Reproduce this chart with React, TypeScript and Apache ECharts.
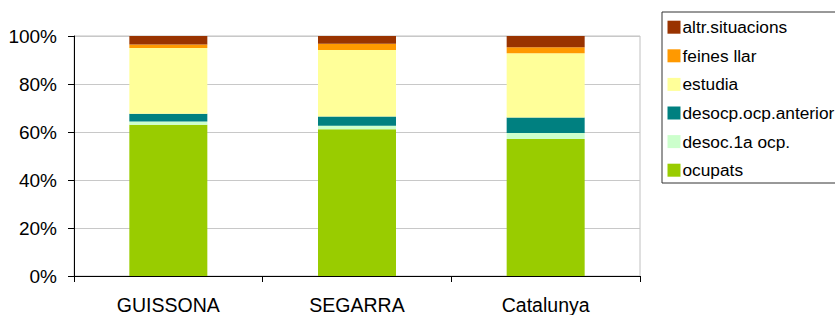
import React, { useEffect, useRef } from "react";
import * as echarts from "echarts";

const categories = ["GUISSONA", "SEGARRA", "Catalunya"];
const seriesNames = ["ocupats", "desoc.1a ocp.", "desocp.ocp.anterior", "estudia", "feines llar", "altr.situacions"];
const ocupats = [63.0, 61.1, 57.1];
const desoc1a = [1.4, 1.5, 2.5];
const desocAnterior = [3.2, 3.9, 6.4];
const estudia = [27.4, 27.7, 26.8];
const feinesLlar = [1.5, 2.6, 2.5];
const altrSituacions = [3.5, 3.2, 4.7];
const yTicks = [0, 20, 40, 60, 80, 100];

const colors = ["#99CC00", "#CCFFCC", "#008080", "#FFFF99", "#FF9900", "#993300"];

export default function App() {
  const ref = useRef<HTMLDivElement>(null);
  useEffect(() => {
    if (!ref.current) return;
    const chart = echarts.init(ref.current, null, { renderer: "svg" });
    const values = [ocupats, desoc1a, desocAnterior, estudia, feinesLlar, altrSituacions];
    const font = "'Liberation Sans', Arial, sans-serif";
    chart.setOption({
      animation: false,
      backgroundColor: "#fff",
      textStyle: { fontFamily: font },
      grid: {
        left: 74,
        right: 195,
        top: 36,
        bottom: 37,
        show: true,
        borderColor: "#c0c0c0",
        borderWidth: 1,
      },
      legend: {
        left: 662,
        top: 12,
        orient: "vertical",
        data: [...seriesNames].reverse(),
        itemWidth: 13,
        itemHeight: 13,
        itemGap: 11.6,
        borderColor: "#333",
        borderWidth: 1,
        padding: [6.7, 30, 4.3, 5.5],
        icon: "rect",
        textStyle: { fontSize: 17.3, lineHeight: 17, color: "#000", fontFamily: font, padding: [0, 0, 0, -3] },
      },
      xAxis: {
        type: "category",
        data: categories,
        axisLine: { lineStyle: { color: "#000", width: 1 } },
        axisTick: { show: true, length: 6, lineStyle: { color: "#000" } },
        axisLabel: { fontSize: 19.5, color: "#000", margin: 19, fontFamily: font },
      },
      yAxis: {
        type: "value",
        min: yTicks[0],
        max: yTicks[yTicks.length - 1],
        interval: 20,
        axisLine: { show: true, lineStyle: { color: "#000", width: 1 } },
        axisTick: { show: true, length: 6, lineStyle: { color: "#000" } },
        axisLabel: { fontSize: 19, color: "#000", margin: 17, formatter: "{value}%", fontFamily: font },
        splitLine: { lineStyle: { color: "#c8c8c8", width: 1 } },
      },
      series: seriesNames.map((name, i) => ({
        name,
        type: "bar",
        stack: "total",
        barWidth: 78,
        data: values[i],
        itemStyle: { color: colors[i] },
      })),
    });
    return () => chart.dispose();
  }, []);
  return <div ref={ref} style={{ position: "fixed", left: 0, top: 0, width: 835, height: 315 }} />;
}
